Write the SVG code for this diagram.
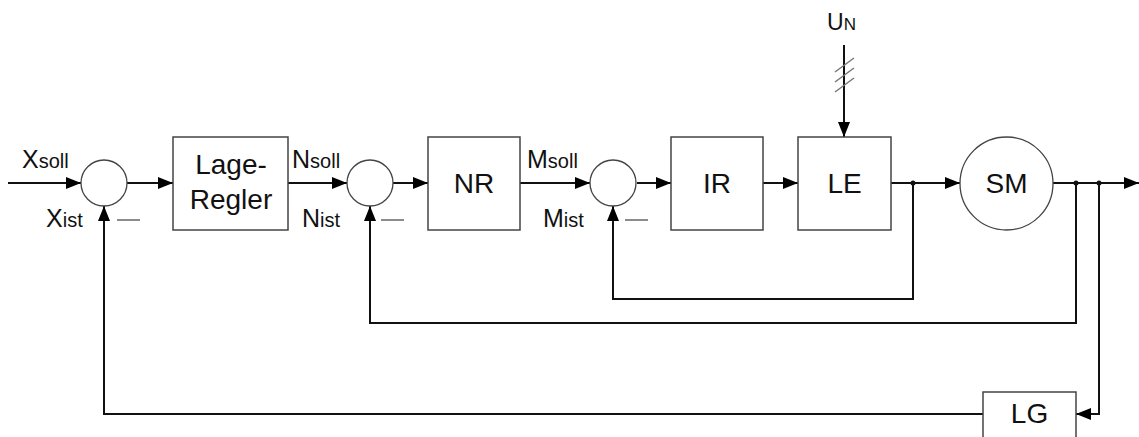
<svg xmlns="http://www.w3.org/2000/svg" width="1139" height="437" viewBox="0 0 1139 437">
<defs>
<marker id="ah" markerWidth="16" markerHeight="12" refX="15" refY="6" orient="auto" markerUnits="userSpaceOnUse">
<path d="M0,0 L15,6 L0,12 Z" fill="#000"/>
</marker>
<style>
.blk{fill:#fff;stroke:#444;stroke-width:1.5}
.sum{fill:#fff;stroke:#444;stroke-width:1.3}
.ln{fill:none;stroke:#111;stroke-width:2}
.arr{fill:none;stroke:#111;stroke-width:2;marker-end:url(#ah)}
.t{font-family:"Liberation Sans",Arial,sans-serif;font-size:28px;fill:#111}
.lbl{font-family:"Liberation Sans",Arial,sans-serif;font-size:25px;fill:#111}
.sub{font-size:20px}
.minus{stroke:#666;stroke-width:1.5}
.hash{stroke:#777;stroke-width:1.5}
</style>
</defs>
<rect width="1139" height="437" fill="#fff"/>

<g id="connectors">
<line class="arr" x1="8" y1="183" x2="81" y2="183"/>
<line class="arr" x1="127" y1="183" x2="173" y2="183"/>
<line class="arr" x1="288" y1="183" x2="347" y2="183"/>
<line class="arr" x1="393" y1="183" x2="428" y2="183"/>
<line class="arr" x1="520" y1="183" x2="590" y2="183"/>
<line class="arr" x1="637" y1="183" x2="671" y2="183"/>
<line class="arr" x1="763" y1="183" x2="798" y2="183"/>
<line class="arr" x1="891" y1="183" x2="960" y2="183"/>
<line class="arr" x1="1053" y1="183" x2="1139" y2="183"/>
<line class="arr" x1="844" y1="45" x2="844" y2="137"/>
<polyline class="arr" points="913,183 913,299 613,299 613,206"/>
<polyline class="arr" points="1076,183 1076,323 370,323 370,206"/>
<polyline class="arr" points="1099,183 1099,414 1076,414"/>
<polyline class="arr" points="983,414 104,414 104,206"/>
<circle cx="913" cy="183" r="2.5" fill="#111"/>
<circle cx="1076" cy="183" r="2.5" fill="#111"/>
<circle cx="1099" cy="183" r="2.5" fill="#111"/>
<line class="hash" x1="835" y1="72" x2="854" y2="58"/>
<line class="hash" x1="835" y1="82" x2="854" y2="68"/>
<line class="hash" x1="835" y1="92" x2="854" y2="78"/>
</g>

<g id="sum1">
<circle class="sum" cx="104" cy="183" r="23"/>
<text class="lbl" x="22" y="168">X<tspan class="sub">soll</tspan></text>
<text class="lbl" x="46" y="227">X<tspan class="sub">ist</tspan></text>
<line class="minus" x1="117" y1="220" x2="140" y2="220"/>
</g>

<g id="lageregler">
<rect class="blk" x="173" y="137" width="115" height="93"/>
<text class="t" x="231" y="174" text-anchor="middle">Lage-</text>
<text class="t" x="231" y="209" text-anchor="middle">Regler</text>
</g>

<g id="sum2">
<circle class="sum" cx="370" cy="183" r="23"/>
<text class="lbl" x="292" y="168">N<tspan class="sub">soll</tspan></text>
<text class="lbl" x="302" y="227">N<tspan class="sub">ist</tspan></text>
<line class="minus" x1="381" y1="220" x2="404" y2="220"/>
</g>

<g id="nr">
<rect class="blk" x="428" y="137" width="92" height="93"/>
<text class="t" x="474" y="193" text-anchor="middle">NR</text>
</g>

<g id="sum3">
<circle class="sum" cx="613" cy="183" r="23"/>
<text class="lbl" x="527" y="168">M<tspan class="sub">soll</tspan></text>
<text class="lbl" x="543" y="227">M<tspan class="sub">ist</tspan></text>
<line class="minus" x1="625" y1="220" x2="648" y2="220"/>
</g>

<g id="ir">
<rect class="blk" x="671" y="137" width="92" height="93"/>
<text class="t" x="717" y="193" text-anchor="middle">IR</text>
</g>

<g id="le">
<rect class="blk" x="798" y="137" width="93" height="93"/>
<text class="t" x="844.5" y="193" text-anchor="middle">LE</text>
</g>

<g id="un">
<text class="lbl" x="827" y="30" style="font-size:23px">U<tspan style="font-size:17px">N</tspan></text>
</g>

<g id="sm">
<circle class="sum" cx="1006.5" cy="183.5" r="46.5"/>
<text class="t" x="1006.5" y="193" text-anchor="middle">SM</text>
</g>

<g id="lg">
<rect class="blk" x="983" y="392" width="93" height="60"/>
<text class="t" x="1029.5" y="423" text-anchor="middle">LG</text>
</g>
</svg>
